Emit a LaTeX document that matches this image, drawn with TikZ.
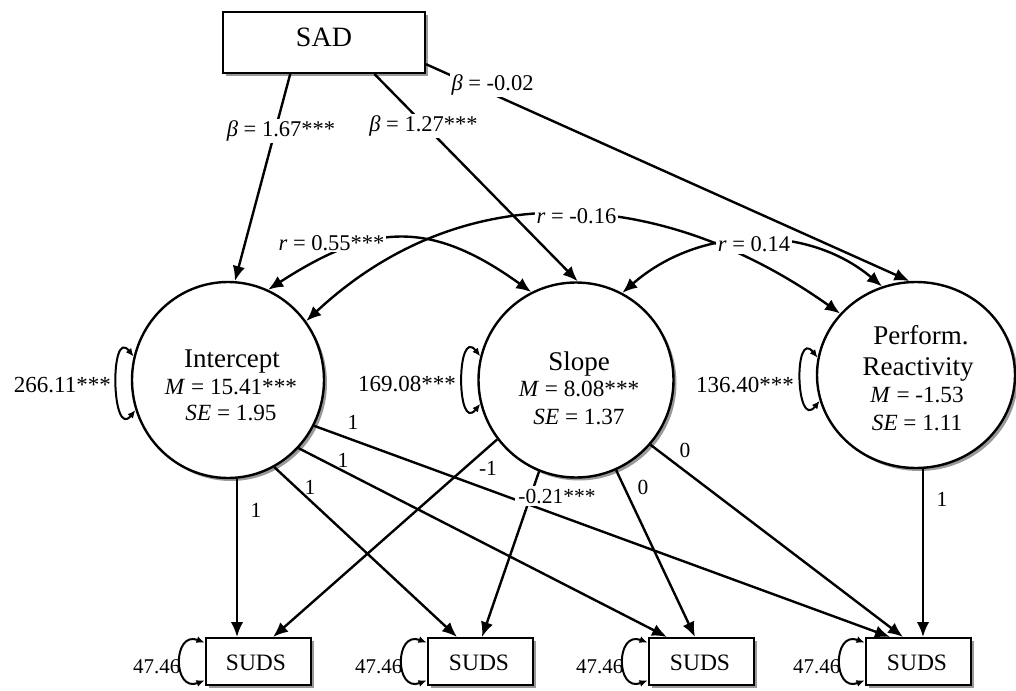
\documentclass[tikz,border=0pt]{standalone}
\usepackage{fontspec}
\setmainfont{Liberation Serif}
\usetikzlibrary{arrows.meta,shadows,shapes.geometric}
\newcommand\fsz[1]{\fontsize{#1}{#1}\selectfont}
\begin{document}
\begin{tikzpicture}[x=1pt,y=-1pt,
  shd/.style={drop shadow={shadow xshift=3pt,shadow yshift=-3pt,fill=black!40,opacity=1}},
  lat/.style={ellipse, draw, line width=2.4pt, fill=white, inner sep=0pt, shd},
  obs/.style={rectangle, draw, line width=2pt, fill=white, inner sep=0pt, minimum width=105pt, minimum height=47pt, shd},
  arr/.style={line width=2.4pt, -{Latex[length=15pt,width=12.5pt]}},
  dbl/.style={line width=2.4pt, {Latex[length=15pt,width=12.5pt]}-{Latex[length=15pt,width=12.5pt]}},
  vloop/.style={line width=2pt, {Latex[length=8pt,width=7pt]}-{Latex[length=8pt,width=7pt]}},
  txt/.style={inner sep=0pt, anchor=base},
  nm/.style={txt, font=\fsz{27}},
  st/.style={txt, font=\fsz{23.2}},
  lbl/.style={fill=white, inner sep=2pt, anchor=base, font=\fsz{22.5}},
  ld/.style={inner sep=1pt, anchor=base, font=\fsz{21.5}},
  var/.style={txt, anchor=base east, font=\fsz{23}},
  err/.style={txt, anchor=base east, font=\fsz{21}}
]
\useasboundingbox (0,0) rectangle (1016,690);

% nodes
\node[obs, minimum width=202pt, minimum height=61pt] (sad) at (324,42.5) {};
\node[txt, font=\fsz{28}] (sadT) at (324,46.7) {SAD};

\node[lat, minimum width=192pt, minimum height=196pt] (int) at (228,380) {};
\node[lat, minimum width=195pt, minimum height=195pt] (slo) at (576,380) {};
\node[lat, minimum width=198pt, minimum height=186pt] (per) at (916,375) {};

\node[obs] (s1) at (258,661.5) {};
\node[obs] (s2) at (480,661.5) {};
\node[obs] (s3) at (701,661.5) {};
\node[obs] (s4) at (918,661.5) {};
\node[txt, font=\fsz{23.5}] (s1T) at (256,670) {SUDS};
\node[txt, font=\fsz{23.5}] (s2T) at (479,670) {SUDS};
\node[txt, font=\fsz{23.5}] (s3T) at (700,670) {SUDS};
\node[txt, font=\fsz{23.5}] (s4T) at (917,670) {SUDS};

% circle texts
\node[nm] (intA) at (232,367) {Intercept};
\node[st] (intB) at (231,394) {\textit{M} = 15.41***};
\node[st] (intC) at (231,420) {\textit{SE} = 1.95};
\node[nm] (sloA) at (579,370) {Slope};
\node[st] (sloB) at (579,396.7) {\textit{M} = 8.08***};
\node[st] (sloC) at (579,424) {\textit{SE} = 1.37};
\node[nm] (perA) at (921,344) {Perform.};
\node[nm] (perB) at (918,375.7) {Reactivity};
\node[st] (perC) at (917,402.7) {\textit{M} = -1.53};
\node[st] (perD) at (917,430) {\textit{SE} = 1.11};

% arrow end points on SUDS boxes
\coordinate (a11) at ([xshift=-21pt]s1.north);
\coordinate (a12) at ([xshift=-23pt]s2.north);
\coordinate (a13) at ([xshift=-34pt]s3.north);
\coordinate (a14) at ([xshift=-28pt]s4.north);
\coordinate (b11) at ([xshift=15pt]s1.north);
\coordinate (b12) at ([xshift=2pt]s2.north);
\coordinate (b13) at ([xshift=-6pt]s3.north);
\coordinate (b14) at ([xshift=-15pt]s4.north);
\coordinate (c14) at ([xshift=5pt]s4.north);

% loadings
\draw[arr] (int.south -| a11) -- (a11);
\draw[arr] (int.-62) -- (a12);
\draw[arr] (int.-44) -- (a13);
\draw[arr] (int.-28.5) -- (a14);
\draw[arr] (slo.-143) -- (b11);
\draw[arr] (slo.-112) -- (b12);
\draw[arr] (slo.-66) -- (b13);
\draw[arr] (slo.-41) -- (b14);
\draw[arr] (per.south -| c14) -- (c14);

% regressions
\draw[arr] (sad.-137.3) -- (int.86);
\draw[arr] (sad.-32.4) -- (slo.89);
\draw[arr] (sad.-12) -- (per.94);

% covariances
\draw[dbl] (int.66) .. controls (371,223) and (430,219) .. (slo.117.5);
\draw[dbl] (int.37.6) .. controls (466,172) and (665,189) .. (per.141);
\draw[dbl] (slo.62) .. controls (700,225) and (808,224) .. (per.111);

% variances
\draw[vloop] (int.166) .. controls +(-24,-30) and +(-24,30) .. (int.-162);
\draw[vloop] (slo.166) .. controls +(-24,-30) and +(-24,30) .. (slo.-166);
\draw[vloop] (per.170) .. controls +(-24,-30) and +(-24,30) .. (per.-165);
\draw[vloop] ([yshift=19pt]s1.west) .. controls +(-32,-12) and +(-32,12) .. ([yshift=-19pt]s1.west);
\draw[vloop] ([yshift=19pt]s2.west) .. controls +(-32,-12) and +(-32,12) .. ([yshift=-19pt]s2.west);
\draw[vloop] ([yshift=19pt]s3.west) .. controls +(-32,-12) and +(-32,12) .. ([yshift=-19pt]s3.west);
\draw[vloop] ([yshift=19pt]s4.west) .. controls +(-32,-12) and +(-32,12) .. ([yshift=-19pt]s4.west);

\node[var] (vi) at (111,392) {266.11***};
\node[var] (vs) at (456,391) {169.08***};
\node[var] (vp) at (794,392) {136.40***};
\node[err] (e1) at ([xshift=-24pt,yshift=-11.5pt]s1.west) {47.46};
\node[err] (e2) at ([xshift=-24pt,yshift=-11.5pt]s2.west) {47.46};
\node[err] (e3) at ([xshift=-24pt,yshift=-11.5pt]s3.west) {47.46};
\node[err] (e4) at ([xshift=-24pt,yshift=-11.5pt]s4.west) {47.46};

% path labels
\node[lbl] (bt1) at (281,136.7) {\textit{β} = 1.67***};
\node[lbl] (bt2) at (423.5,131.7) {\textit{β} = 1.27***};
\node[lbl] (bt3) at (492.5,90.7) {\textit{β} = -0.02};
\node[lbl] (rc1) at (331.5,250) {\textit{r} = 0.55***};
\node[lbl] (rc2) at (576.5,223) {\textit{r} = -0.16};
\node[lbl] (rc3) at (754,251.7) {\textit{r} = 0.14};

\node[ld] (l1) at (256,517) {1};
\node[ld] (l2) at (310,494) {1};
\node[ld] (l3) at (343,467) {1};
\node[ld] (l4) at (353,429) {1};
\node[ld] (l5) at (488,475) {-1};
\node[ld, fill=white, inner sep=3pt] (l6) at (557,503) {-0.21***};
\node[ld] (l7) at (643,494) {0};
\node[ld] (l8) at (685,457) {0};
\node[ld] (l9) at (942,506) {1};
\end{tikzpicture}
\end{document}
